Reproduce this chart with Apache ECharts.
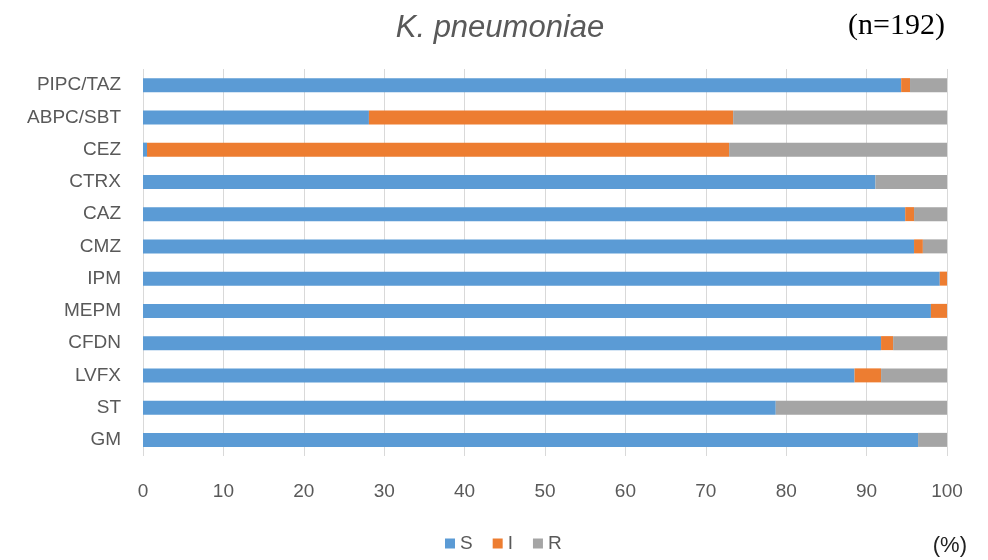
<!DOCTYPE html>
<html><head><meta charset="utf-8">
<script src="https://cdn.jsdelivr.net/npm/echarts@6/dist/echarts.min.js"></script>
<style>html,body{margin:0;padding:0;background:#fff}#c{width:988px;height:560px}</style>
</head><body><div id="c"></div>
<script>
const categories = ["PIPC/TAZ","ABPC/SBT","CEZ","CTRX","CAZ","CMZ","IPM","MEPM","CFDN","LVFX","ST","GM"];
const sValues = [94.3, 28.1, 0.5, 91.1, 94.8, 95.9, 99.1, 98.0, 91.8, 88.5, 78.7, 96.4];
const iValues = [1.1, 45.3, 72.4, 0, 1.1, 1.1, 0.9, 2.0, 1.5, 3.3, 0, 0];
const rValues = [4.6, 26.6, 27.1, 8.9, 4.1, 3.0, 0, 0, 6.7, 8.2, 21.3, 3.6];
const xTicks = [0,10,20,30,40,50,60,70,80,90,100];

const chart = echarts.init(document.getElementById('c'));
const font = '"Liberation Sans",Arial,sans-serif';
const mk = (name, data, color) => ({
  name, type: 'bar', stack: 'a', data, barWidth: 14,
  itemStyle: { color }, emphasis: { disabled: true }
});
chart.setOption({
  animation: false,
  title: [
    { text: 'K. pneumoniae', left: 495, top: 8, textAlign: 'center',
      textStyle: { fontStyle: 'italic', fontWeight: 'normal', fontSize: 31, color: '#595959', fontFamily: font } },
    { text: '(n=192)', right: 38, top: 6,
      textStyle: { fontWeight: 'normal', fontSize: 30, color: '#000', fontFamily: '"Liberation Serif","DejaVu Serif",serif' } },
    { text: '(%)', right: 16, top: 530,
      textStyle: { fontWeight: 'normal', fontSize: 22, color: '#222', fontFamily: font } }
  ],
  legend: {
    data: ['S','I','R'], bottom: 2, left: 440,
    itemWidth: 10, itemHeight: 10, itemGap: 20, icon: 'rect',
    textStyle: { fontSize: 19, color: '#595959', fontFamily: font }
  },
  grid: { left: 143, right: 41, top: 69, bottom: 104 },
  xAxis: {
    type: 'value', min: 0, max: 100, interval: 10,
    axisLine: { show: false }, axisTick: { show: false },
    splitLine: { lineStyle: { color: '#d9d9d9' } },
    axisLabel: { fontSize: 19, color: '#595959', margin: 26, fontFamily: font,
      formatter: v => xTicks.includes(v) ? String(v) : '' }
  },
  yAxis: {
    type: 'category', data: categories, inverse: true,
    axisLine: { show: false }, axisTick: { show: false },
    axisLabel: { fontSize: 19, color: '#595959', margin: 22, fontFamily: font }
  },
  series: [
    mk('S', sValues, '#5b9bd5'),
    mk('I', iValues, '#ed7d31'),
    mk('R', rValues, '#a5a5a5')
  ]
});
</script></body></html>
